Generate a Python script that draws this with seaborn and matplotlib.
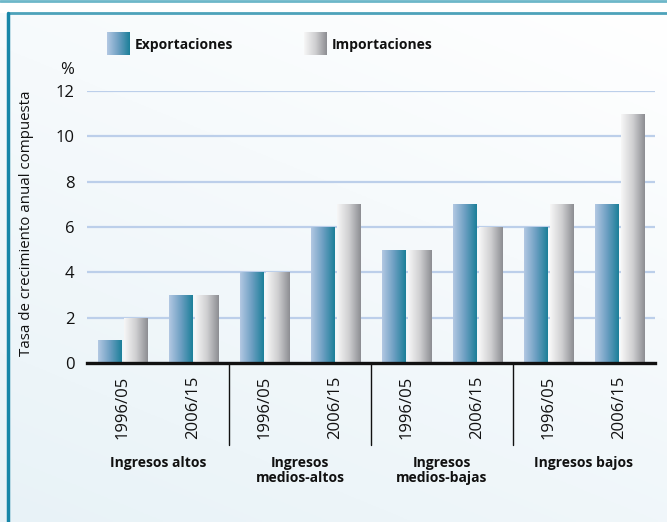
import numpy as np
import pandas as pd
import matplotlib
matplotlib.use('Agg')
import matplotlib.pyplot as plt
import matplotlib.transforms as mtransforms
from matplotlib.colors import LinearSegmentedColormap
import seaborn as sns

groups = ['Ingresos altos', 'Ingresos\nmedios-altos', 'Ingresos\nmedios-bajas', 'Ingresos bajos']
periods = ['1996/05', '2006/15']
series = ['Exportaciones', 'Importaciones']
exportaciones = [1, 3, 4, 6, 5, 7, 6, 7]
importaciones = [2, 3, 4, 7, 5, 6, 7, 11]

slots = [g + '|' + p for g in groups for p in periods]
df = pd.DataFrame({
    'slot': slots * 2,
    'serie': [series[0]] * len(slots) + [series[1]] * len(slots),
    'valor': exportaciones + importaciones,
})

sns.set_theme(style='white')
plt.rcParams['font.family'] = ['Open Sans', 'DejaVu Sans']

cmap_exp = LinearSegmentedColormap.from_list('exp', ['#b3c8e3', '#6d9fc2', '#1b7f99'])
cmap_imp = LinearSegmentedColormap.from_list('imp', ['#f7f7f7', '#cfcfd1', '#8c8d92'])
grad = np.linspace(0, 1, 256).reshape(1, -1)

W, H = 667, 522
fig = plt.figure(figsize=(W / 100, H / 100), dpi=100)

# background / frame in pixel coordinates
bg = fig.add_axes([0, 0, 1, 1], zorder=-10)
bg.set_xlim(0, W)
bg.set_ylim(H, 0)
bg.axis('off')
yy, xx = np.mgrid[0:1:200j, 0:1:200j]
t = np.clip(0.65 * yy + 0.35 * (1 - xx), 0, 1)
c0 = np.array([1.0, 1.0, 1.0])
c1 = np.array([0.91, 0.95, 0.97])
img = c0 * (1 - t[..., None]) + c1 * t[..., None]
bg.imshow(img, extent=[0, W, H, 13], aspect='auto', zorder=0)
bg.plot([0, W], [1, 1], color='#6db7c9', lw=2, zorder=2)
bg.plot([8, W], [13, 13], color='#4da2ba', lw=2, zorder=2)
bg.plot([8, 8], [13, H], color='#1786a8', lw=2.5, zorder=2)

# legend
for x0, cm, name in [(107, cmap_exp, series[0]), (304, cmap_imp, series[1])]:
    bg.imshow(grad, cmap=cm, extent=[x0, x0 + 23, 55, 32], aspect='auto', zorder=3)
    bg.text(x0 + 28, 45, name, ha='left', va='center', fontsize=10,
            fontweight='bold', color='#111111', zorder=4)
bg.set_xlim(0, W)
bg.set_ylim(H, 0)

bg.text(67, 70, '%', ha='center', va='center', fontsize=12, color='#111111')
bg.text(27, 223, 'Tasa de crecimiento anual compuesta', rotation=90,
        ha='center', va='center', fontsize=10.8, color='#111111')

# main chart
ax = fig.add_axes([87 / W, 1 - 363 / H, 568 / W, 272 / H])
ax.patch.set_alpha(0)
sns.barplot(data=df, x='slot', y='valor', hue='serie', order=slots,
            hue_order=series, width=0.72, gap=0.08, legend=False,
            palette=['#1b7f99', '#8c8d92'], ax=ax, zorder=3)

for cont, cm in zip(ax.containers, [cmap_exp, cmap_imp]):
    for bar in cont:
        x0, y0 = bar.get_xy()
        w, h = bar.get_width(), bar.get_height()
        im = ax.imshow(grad, cmap=cm, extent=[x0, x0 + w, y0, y0 + h],
                       aspect='auto', zorder=4)
        im.set_clip_path(bar)
        bar.set_facecolor('none')
        bar.set_edgecolor('none')

ax.set_xlim(-0.5, 7.5)
ax.set_ylim(0, 12)
ax.set_yticks(range(0, 13, 2))
ax.set_xticks(range(len(slots)))
ax.set_xticklabels(periods * len(groups), rotation=90, fontsize=12, color='#111111')
ax.tick_params(axis='x', length=0, pad=9)
ax.tick_params(axis='y', length=0, pad=9, labelsize=12, labelcolor='#111111')
ax.set_xlabel('')
ax.set_ylabel('')
ax.yaxis.grid(True, color='#bccfea', lw=1.6)
ax.set_axisbelow(True)
for s in ['left', 'right', 'top']:
    ax.spines[s].set_visible(False)
ax.spines['bottom'].set_color('#111111')
ax.spines['bottom'].set_linewidth(2.4)
ax.spines['bottom'].set_zorder(6)

trans = mtransforms.blended_transform_factory(ax.transData, ax.transAxes)
for xd in [1.5, 3.5, 5.5]:
    ax.plot([xd, xd], [0, -82 / 272], transform=trans, color='#111111',
            lw=1, clip_on=False)
for gi, g in enumerate(groups):
    ax.text(gi * 2 + 0.5, -93 / 272, g, transform=trans, ha='center', va='top',
            fontsize=10, fontweight='bold', color='#111111', linespacing=1.1)

fig.savefig('out.png', dpi=100)
